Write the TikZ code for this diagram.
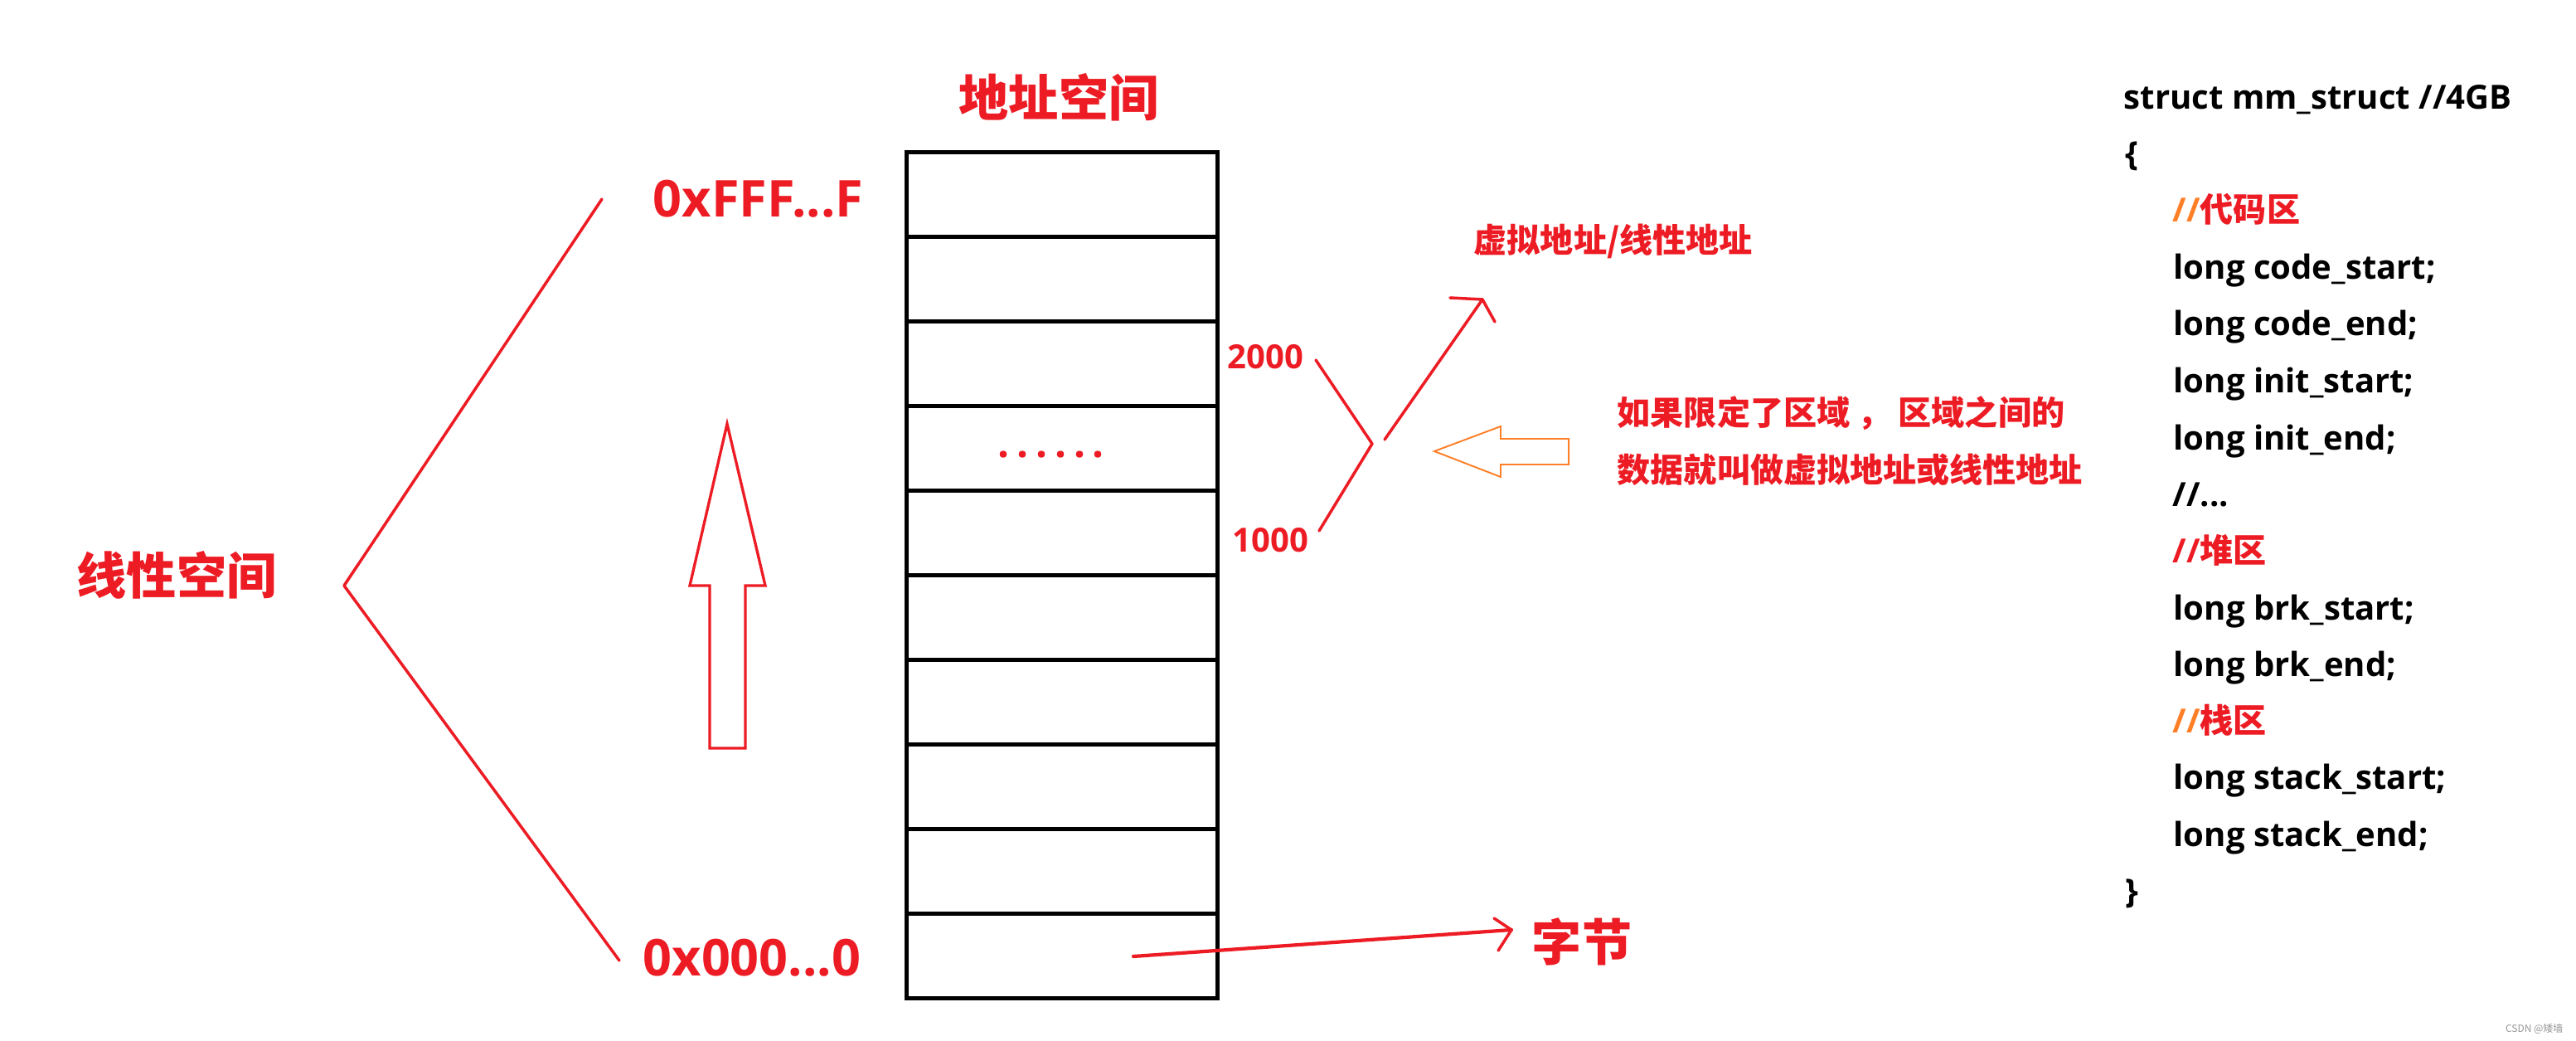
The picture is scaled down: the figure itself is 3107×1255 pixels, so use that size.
\documentclass[tikz,border=0pt]{standalone}
\usepackage{fontspec}
\setmainfont{Open Sans}
\newfontfamily\cjk{Noto Sans CJK SC}
\usetikzlibrary{positioning}
\definecolor{pred}{RGB}{237,28,36}
\definecolor{porange}{RGB}{255,127,39}
\definecolor{wmgray}{RGB}{150,150,150}
\newcommand\sdot{.\kern2.5pt}
\begin{document}
\begin{tikzpicture}[x=0.01cm,y=-0.01cm,
  bigcjk/.style={font=\cjk\bfseries\fontsize{17.1pt}{20pt}\selectfont, text=pred, inner sep=0pt},
  midcjk/.style={font=\cjk\bfseries\fontsize{11.4pt}{14pt}\selectfont, text=pred, inner sep=0pt},
  hexlbl/.style={font=\bfseries\fontsize{17.4pt}{20pt}\selectfont, text=pred, inner sep=0pt, anchor=base west},
  numlbl/.style={font=\bfseries\fontsize{11.4pt}{14pt}\selectfont, text=pred, inner sep=0pt, anchor=base west},
  codeln/.style={font=\bfseries\fontsize{11.4pt}{14pt}\selectfont, text=black, inner sep=0pt, anchor=base west},
  memrow/.style={draw=black, line width=1.42pt, minimum width=3.74cm, minimum height=1.019cm, inner sep=0pt, outer sep=0pt},
  redln/.style={draw=pred, line width=1pt, line cap=round, line join=round},
  hollow/.style={draw=pred, line width=0.95pt, line join=miter},
  orangearrow/.style={draw=porange, line width=0.55pt, line join=miter}
]
\useasboundingbox (0,0) rectangle (3107,1255);
\fill[white] (0,0) rectangle (3107,1255);

% memory column
\foreach \k in {1,...,10}
  \node[memrow] (r\k) at (1281,{184+101.9*(\k-0.5)}) {};
\node[bigcjk] (title) at (1277,117) {地址空间};
\node[font=\bfseries\fontsize{14pt}{16pt}\selectfont, text=pred, inner sep=0pt, anchor=base west] (dots) at (1203,551) {\sdot\sdot\sdot\sdot\sdot.};

% linear space
\node[bigcjk] (linear) at (213,693) {线性空间};
\node[hexlbl] (hi) at (787,262) {0xFFF...F};
\node[hexlbl] (lo) at (775,1176) {0x000...0};
\coordinate (vtop) at (726,240);
\coordinate (vapex) at (415,706);
\coordinate (vbot) at (747,1158);
\draw[redln] (vtop) -- (vapex) -- (vbot);

% up arrow
\coordinate (uptip) at (877,511);
\draw[hollow] (uptip) -- (923,706) -- (899,706) -- (899,902) -- (856,902) -- (856,706) -- (832,706) -- cycle;

% 2000 / 1000 bracket
\node[numlbl] (n2000) at (1480,445) {2000};
\node[numlbl] (n1000) at (1486,665) {1000};
\coordinate (b1) at (1587,434);
\coordinate (bapex) at (1655,535);
\coordinate (b2) at (1591,640);
\draw[redln] (b1) -- (bapex) -- (b2);

% arrow to virtual address label
\node[midcjk, anchor=west] (virt) at (1777,291) {虚拟地址/线性地址};
\coordinate (vs) at (1670,530);
\coordinate (vtip) at (1788,361);
\draw[redln] (vs) -- (vtip);
\draw[redln] (1749,359) -- (vtip) -- (1803,388);

% orange hollow arrow
\coordinate (otip) at (1730,544);
\draw[orangearrow] (otip) -- (1810,514) -- (1810,529) -- (1892,529) -- (1892,560) -- (1810,560) -- (1810,575) -- cycle;

% explanation
\node[midcjk, anchor=west] (expl1) at (1950,498) {如果限定了区域 ， 区域之间的};
\node[midcjk, anchor=west] (expl2) at (1950,566) {数据就叫做虚拟地址或线性地址};

% byte arrow
\node[bigcjk] (byte) at (1908,1135) {字节};
\coordinate (bs) at (1367,1153);
\coordinate (btip) at (1823,1121);
\draw[draw=pred, line width=1.2pt, line cap=round] (bs) -- (btip);
\draw[redln] (1802,1107) -- (btip) -- (1807,1146);

% code
\node[codeln] (c1) at (2561,132) {struct mm\_struct //4GB};
\node[codeln] (c2) at (2563,200) {\{};
\node[codeln] (c3) at (2620,268) {\textcolor{porange}{//}\textcolor{pred}{\cjk 代码区}};
\node[codeln] (c4) at (2621,337) {long code\_start;};
\node[codeln] (c5) at (2621,405) {long code\_end;};
\node[codeln] (c6) at (2621,473) {long init\_start;};
\node[codeln] (c7) at (2621,542) {long init\_end;};
\node[codeln] (c8) at (2620,610) {//...};
\node[codeln] (c9) at (2620,678) {\textcolor{pred}{//\cjk 堆区}};
\node[codeln] (c10) at (2621,747) {long brk\_start;};
\node[codeln] (c11) at (2621,815) {long brk\_end;};
\node[codeln] (c12) at (2620,883) {\textcolor{porange}{//}\textcolor{pred}{\cjk 栈区}};
\node[codeln] (c13) at (2621,951) {long stack\_start;};
\node[codeln] (c14) at (2621,1020) {long stack\_end;};
\node[codeln] (c15) at (2563,1088) {\}};

% watermark
\node[font=\cjk\fontsize{3.4pt}{4pt}\selectfont, text=wmgray, inner sep=0pt, anchor=east] (wm) at (3092,1240) {CSDN @矮墙};
\end{tikzpicture}
\end{document}
